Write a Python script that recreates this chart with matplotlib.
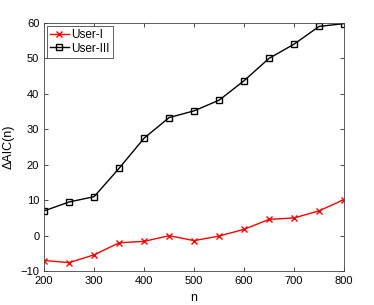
import matplotlib
matplotlib.use("Agg")
import matplotlib.pyplot as plt

n = [200, 250, 300, 350, 400, 450, 500, 550, 600, 650, 700, 750, 800]
user_i = [-7.0, -7.6, -5.4, -2.0, -1.6, 0.0, -1.4, -0.1, 1.8, 4.6, 5.0, 7.0, 10.2]
user_iii = [7.0, 9.5, 11.0, 19.0, 27.5, 33.3, 35.2, 38.2, 43.7, 50.0, 54.0, 59.0, 59.8]

plt.rcParams['font.family'] = 'Liberation Sans'
plt.rcParams['font.size'] = 8

fig = plt.figure(figsize=(3.74, 3.05), dpi=100)
ax = fig.add_axes([0.118, 0.111, 0.802, 0.814])

ax.plot(n, user_i, color='red', marker='x', markersize=5, linewidth=1, label='User-I')
ax.plot(n, user_iii, color='black', marker='s', markersize=4.5, markerfacecolor='none',
        linewidth=1, label='User-III')

ax.set_xlim(200, 800)
ax.set_ylim(-10, 60)
ax.set_xticks(range(200, 801, 100))
ax.set_yticks(range(-10, 61, 10))
ax.tick_params(direction='in', length=3, width=0.5, top=True, right=True)
for s in ax.spines.values():
    s.set_linewidth(0.6)
    s.set_color('#444444')

ax.set_xlabel('n', fontsize=9)
ax.set_ylabel('ΔAIC(n)', fontsize=9)

leg = ax.legend(loc='upper left', fancybox=False, edgecolor='#444444', framealpha=1,
                borderpad=0.25, handlelength=1.6, handletextpad=0.2, borderaxespad=0.25,
                labelspacing=0.15, fontsize=8.5)
leg.get_frame().set_linewidth(0.6)

fig.savefig('out.png', dpi=100)
